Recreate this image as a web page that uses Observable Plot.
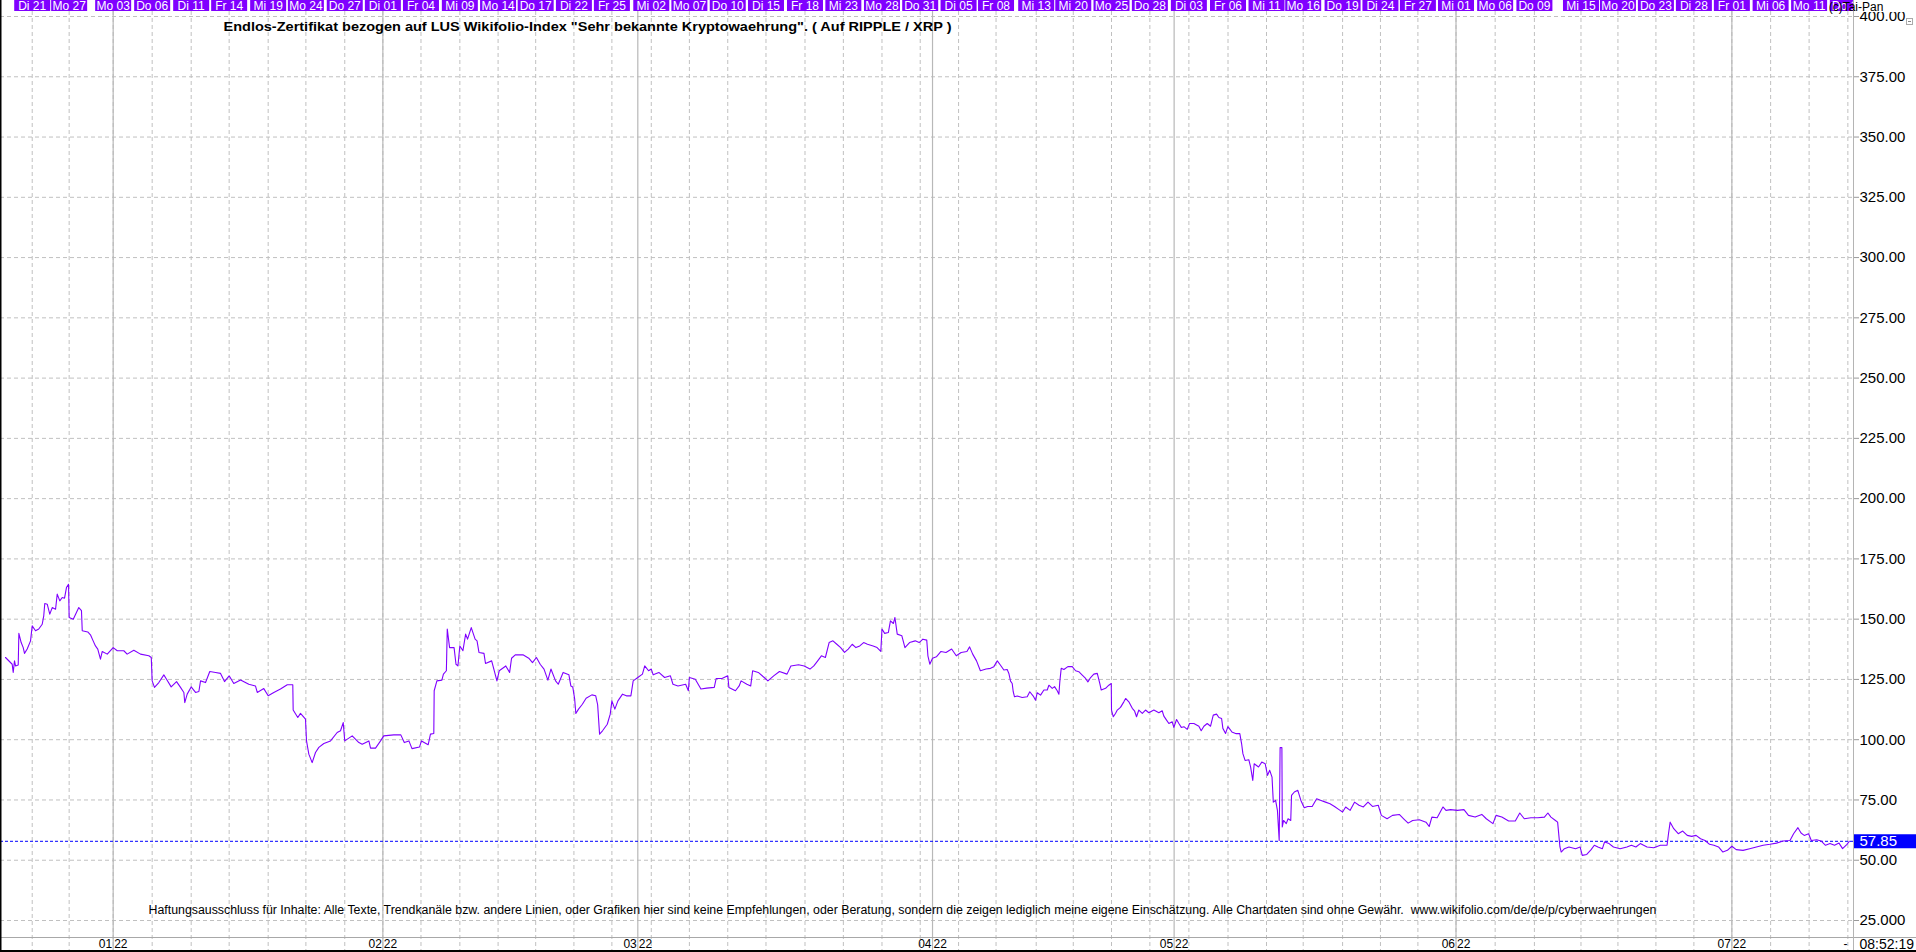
<!DOCTYPE html>
<html><head><meta charset="utf-8">
<script src="https://cdn.jsdelivr.net/npm/d3@7"></script>
<script src="https://cdn.jsdelivr.net/npm/@observablehq/plot@0.6"></script>
<style>html,body{margin:0;padding:0;background:#fff;overflow:hidden}</style>
</head><body><div id="chart"></div>
<script>
// ---- data (x = trading session index counted from Di 21.12.2021) ----
const dayLabels = [["Di 21",0],["Mo 27",2.88],["Mo 03",6.31],["Do 06",9.35],["Di 11",12.39],["Fr 14",15.35],["Mi 19",18.39],["Mo 24",21.33],["Do 27",24.36],["Di 01",27.33],["Fr 04",30.30],["Mi 09",33.33],["Mo 14",36.31],["Do 17",39.24],["Di 22",42.22],["Fr 25",45.18],["Mi 02",48.25],["Mo 07",51.22],["Do 10",54.21],["Di 15",57.19],["Fr 18",60.23],["Mi 23",63.22],["Mo 28",66.23],["Do 31",69.21],["Di 05",72.20],["Fr 08",75.12],["Mi 13",78.25],["Mi 20",81.14],["Mo 25",84.12],["Do 28",87.11],["Di 03",90.15],["Fr 06",93.20],["Mi 11",96.20],["Mo 16",99.06],["Do 19",102.13],["Di 24",105.08],["Fr 27",108.00],["Mi 01",110.97],["Mo 06",114.02],["Do 09",117.08],["Mi 15",120.71],["Mo 20",123.59],["Do 23",126.55],["Di 28",129.51],["Fr 01",132.47],["Mi 06",135.49],["Mo 11",138.49],["Do 14",141.51]];
const monthMarks = [["01","22",6.31],["02","22",27.33],["03","22",47.2],["04","22",70.17],["05","22",89.0],["06","22",110.97],["07","22",132.47]];
const yTicks = [25,50,75,100,125,150,175,200,225,250,275,300,325,350,375,400];
const lastPrice = 57.85;
const sessionRange = [-2.471, 141.95];
const titleText = 'Endlos-Zertifikat bezogen auf LUS Wikifolio-Index "Sehr bekannte Kryptowaehrung". ( Auf RIPPLE / XRP )';
const disclaimerText = 'Haftungsausschluss für Inhalte: Alle Texte, Trendkanäle bzw. andere Linien, oder Grafiken hier sind keine Empfehlungen, oder Beratung, sondern die zeigen lediglich meine eigene Einschätzung. Alle Chartdaten sind ohne Gewähr.  www.wikifolio.com/de/de/p/cyberwaehrungen';
const copyrightText = "(c)Tai-Pan";
const clockText = "08:52:19";
const xrpCloses = [[-2.08,134.1],[-1.56,131.3],[-1.48,127.9],[-1.38,132.7],[-1.30,130.6],[-1.09,131],[-1.04,144.1],[-0.86,140.3],[-0.70,138.2],[-0.60,135.8],[-0.39,137.6],[-0.13,141],[0,147.2],[0.26,145.2],[0.51,145.9],[0.78,147.9],[0.90,151.4],[0.98,156.5],[1.17,156.2],[1.37,152.1],[1.56,154.8],[1.82,154.1],[1.95,160.4],[2.15,157.6],[2.34,159],[2.52,158.7],[2.67,163.1],[2.83,164.5],[2.88,150.7],[3.20,150],[3.63,154.8],[3.84,153.5],[3.90,145.2],[4.33,144.7],[4.54,143.5],[4.75,141],[4.93,138.9],[5.11,137.6],[5.32,133.4],[5.46,136.6],[5.85,135.5],[6.31,138.2],[6.63,136.9],[7.14,136.9],[7.40,135.5],[7.92,137.1],[8.44,135.5],[9.09,134.8],[9.28,134.1],[9.35,124.4],[9.53,121.7],[9.87,123.7],[10.26,126.9],[10.47,125.1],[10.83,121.9],[11.25,124.1],[11.56,121.7],[11.82,119.6],[11.89,115.4],[12.08,118.9],[12.39,121.9],[12.73,119.6],[12.99,120],[13.12,124.4],[13.51,123.7],[13.84,128.3],[14.29,127.9],[14.68,127.5],[14.99,124.1],[15.35,126.5],[15.71,123.3],[16.24,124.8],[16.88,123],[17.40,122.3],[17.54,119.6],[18.05,121.2],[18.39,118.2],[18.83,119.6],[19.35,121],[19.88,122.8],[20.31,122.8],[20.34,112.3],[20.70,109.2],[20.91,110.9],[21.30,108.5],[21.38,99.5],[21.56,94],[21.82,90.5],[22.08,94.7],[22.34,96.8],[22.73,98.4],[23.25,99.5],[23.77,103],[24.03,103.7],[24.24,107.1],[24.36,99.5],[24.94,101.6],[25.46,98.8],[25.72,98.1],[26.24,99.5],[26.37,96.5],[26.76,96.5],[27.15,99.5],[27.40,101.6],[28.18,102],[28.73,102],[29.00,98.8],[29.36,99.5],[29.60,96.3],[30.19,97],[30.34,99.5],[30.86,97.9],[31.04,102.3],[31.30,102.6],[31.33,120.3],[31.54,124.4],[31.93,124.7],[32.05,127.2],[32.28,128.6],[32.35,145.9],[32.53,138.2],[32.88,138.2],[33.03,131.3],[33.18,130.6],[33.33,138.9],[33.57,136.9],[33.78,143.8],[33.93,141.7],[34.22,146.5],[34.52,141.7],[34.67,141],[34.82,136.2],[35.21,135.8],[35.33,131.6],[35.81,132.7],[36.22,124.4],[36.40,128.6],[36.91,130.6],[37.21,127.9],[37.36,133.8],[37.65,135.2],[38.25,135.2],[38.70,133.8],[38.99,132],[39.30,134.1],[39.59,131.3],[39.89,129.3],[40.19,124.7],[40.43,129.3],[40.79,124.4],[41.00,123],[41.38,127.9],[41.83,126.9],[41.98,122.3],[42.13,121.9],[42.28,116.8],[42.37,110.9],[42.58,112.7],[42.88,114.7],[43.17,117.2],[43.62,118.6],[43.92,118.2],[44.07,114.5],[44.22,102.3],[44.45,103.7],[44.82,106.4],[45.05,110.6],[45.18,116.1],[45.41,112.7],[45.65,116.1],[46.01,118.9],[46.31,118.2],[46.66,118.2],[46.84,124.4],[47.20,125.8],[47.56,127.2],[47.74,130.6],[48.04,128.6],[48.25,129.3],[48.40,126.9],[48.84,127.9],[49.29,125.8],[49.74,126.5],[49.94,123],[50.33,122.3],[50.93,123],[51.14,120.3],[51.22,125.8],[51.68,125.1],[52.12,121],[52.57,121.4],[53.16,121.7],[53.31,125.4],[53.76,125.4],[54.21,126.5],[54.30,121.7],[54.81,120.3],[55.10,122.3],[55.25,124.4],[55.70,123],[56.00,122.3],[56.15,128.6],[56.59,127.9],[57.05,125.8],[57.34,124.4],[57.79,126.5],[58.24,128.3],[58.83,127.2],[59.13,130.6],[59.73,131.1],[60.17,130.6],[60.62,129.3],[60.92,130.6],[61.22,132.7],[61.51,134.8],[61.82,134.1],[62.11,140.3],[62.41,141],[62.71,139.6],[63.01,138.2],[63.31,136.2],[63.60,137.6],[63.91,139.6],[64.20,138.2],[64.50,138.9],[64.80,140.3],[65.10,139.6],[65.54,138.9],[65.85,138.2],[66.14,136.6],[66.23,145.9],[66.44,144.1],[66.73,144.5],[66.89,149.3],[67.12,148.2],[67.24,150.7],[67.42,143.8],[67.78,143.1],[68.02,138.2],[68.38,140.3],[68.82,141],[69.13,140.3],[69.42,141.7],[69.72,141.3],[69.81,134.8],[69.96,131.3],[70.17,133.8],[70.47,134.4],[70.83,136.6],[71.22,136.2],[71.66,137.6],[72.02,134.8],[72.40,136.2],[72.85,136.6],[73.06,138.5],[73.30,135.5],[73.60,132.7],[73.90,128.6],[74.34,129.3],[74.69,129.6],[74.95,130.3],[75.22,132.7],[75.47,130.9],[75.73,128.9],[75.99,129.1],[76.12,127.5],[76.25,124.3],[76.38,123.3],[76.46,119.9],[76.56,117.8],[76.77,118.1],[77.16,117.5],[77.55,117.8],[77.75,119.9],[78.02,118.1],[78.20,116.4],[78.33,119.5],[78.59,118.5],[78.85,120.6],[79.11,120.6],[79.24,122.6],[79.50,121.3],[79.68,122],[79.89,120.3],[80.02,118.9],[80.09,124],[80.20,129.6],[80.41,129.1],[80.72,130.3],[81.06,130.3],[81.32,128.6],[81.57,128.2],[81.84,126.8],[82.10,125.4],[82.28,124],[82.49,125.8],[82.74,127.2],[83.01,127.5],[83.21,123.3],[83.32,120.6],[83.66,121.3],[83.91,122.6],[84.10,123.3],[84.12,112.3],[84.26,109.5],[84.43,110.9],[84.57,112.3],[84.82,113.4],[85.08,115.7],[85.22,117.1],[85.47,115.7],[85.74,113],[85.91,112],[86.07,109.5],[86.25,112.3],[86.52,110.9],[86.77,112.3],[87.03,111.2],[87.42,112.3],[87.81,111.2],[88.07,112],[88.20,109.8],[88.41,108.1],[88.59,106.7],[88.85,107.4],[88.98,105.1],[89.19,108.4],[89.37,106.7],[89.56,105.1],[89.76,105.4],[90.02,104.3],[90.20,106.7],[90.54,106.7],[90.93,105.6],[91.11,103.7],[91.32,105.6],[91.58,106.7],[91.84,105.6],[92.05,110.2],[92.31,110.6],[92.49,109.2],[92.70,108.8],[92.80,104.7],[93.01,102.6],[93.19,105.4],[93.40,104],[93.50,103.2],[93.84,102.5],[94.12,102.5],[94.26,98.3],[94.36,94.2],[94.53,91.4],[94.82,91.7],[94.96,88.7],[95.13,83.1],[95.24,90],[95.58,88.7],[95.83,90.7],[96.10,90],[96.28,85.2],[96.45,87.3],[96.63,84.5],[96.73,74.1],[96.91,74.8],[97.05,70.7],[97.19,58.2],[97.26,96.7],[97.40,96.7],[97.43,63.8],[97.53,66.5],[97.74,65.2],[97.88,67.2],[98.09,66.5],[98.15,76.9],[98.37,78.3],[98.64,79],[98.88,74.8],[99.14,71.8],[99.41,72.3],[99.76,72.3],[100.11,75.5],[100.45,74.8],[100.80,74.1],[101.15,73.4],[101.50,72.3],[101.85,71],[102.13,70],[102.37,72.1],[102.72,70.7],[103.06,74.1],[103.41,72.8],[103.75,72.1],[104.11,74.1],[104.46,72.3],[104.91,72.8],[105.15,68.6],[105.60,67.2],[106.02,68.6],[106.55,69],[106.89,67.2],[107.24,65.4],[107.59,66.5],[108.11,66.8],[108.63,65.8],[108.88,64],[109.09,67.9],[109.50,67.6],[109.95,72.1],[110.19,70.7],[110.55,71],[111.07,70.7],[111.59,71],[111.94,68.6],[112.46,67.9],[112.98,69],[113.33,67.2],[113.85,65.2],[114.09,68.6],[114.54,67.9],[115.07,66.3],[115.59,66.3],[115.94,69.6],[116.29,67.2],[116.81,67.6],[117.34,67.6],[117.86,67.9],[118.13,69.6],[118.37,67.9],[118.72,66.5],[118.89,65.8],[119.07,55.5],[119.17,53.4],[119.42,54.8],[119.77,55.5],[120.29,54.8],[120.64,55.5],[120.81,52],[121.16,52.4],[121.50,54.4],[121.75,56.2],[122.03,55.5],[122.38,54.8],[122.55,57.6],[122.90,56.9],[123.24,55.5],[123.76,54.8],[124.29,55.5],[124.64,56.2],[124.99,55.5],[125.33,56.9],[125.86,55.5],[126.38,55.2],[126.90,56.2],[127.42,56.2],[127.53,61],[127.66,65.8],[127.94,63.1],[128.29,61],[128.64,62.1],[128.99,60.3],[129.34,59.9],[129.68,60.3],[130.03,58.9],[130.38,58.2],[130.73,56.6],[131.07,56.2],[131.43,55.5],[131.77,53.4],[132.12,54.1],[132.47,55.8],[132.81,54.4],[133.34,54.1],[133.86,54.8],[134.38,55.5],[134.91,56.2],[135.43,56.6],[135.95,57.1],[136.47,58],[137.00,58.2],[137.28,61],[137.62,63.5],[137.86,61.3],[138.11,60.3],[138.45,61],[138.66,58.2],[139.08,58.5],[139.42,58],[139.77,56.2],[140.12,56.9],[140.47,56.2],[140.82,57.1],[141.10,54.8],[141.44,56.6],[141.62,57.85]];

// ---- styles ----
const PURPLE = "#8000ff", GRID = "#c0c0c0", FONT = "'Liberation Sans', Arial, sans-serif";
const AXIS_FS = 15;

const chart = Plot.plot({
  width: 1916, height: 952,
  marginLeft: 0, marginRight: 63, marginTop: 11, marginBottom: 15,
  style: {background: "#fff", fontFamily: FONT, color: "#000", overflow: "visible"},
  x: {domain: sessionRange, axis: null},
  y: {domain: [25, 400], range: [920, 16]},
  marks: [
    // horizontal dashed grid
    Plot.ruleY(yTicks, {stroke: GRID, strokeDasharray: "4,3"}),
    // vertical dashed grid at day labels
    Plot.ruleX(dayLabels, {x: d => d[1], stroke: GRID, strokeDasharray: "4,3", insetBottom: -13}),
    // solid month lines
    Plot.ruleX(monthMarks, {x: d => d[2], stroke: "#b8b8b8", strokeWidth: 1.2, insetBottom: -13}),
    // last price line
    Plot.ruleY([lastPrice], {stroke: "#0000ff", strokeDasharray: "3,2"}),
    // price series
    Plot.line(xrpCloses, {x: d => d[0], y: d => d[1], stroke: PURPLE, strokeWidth: 1.1}),
    // right axis
    Plot.axisY(yTicks, {anchor: "right", label: null, tickSize: 5, tickPadding: 1, stroke: "#999",
      tickFormat: d => d === 25 ? "25.000" : d.toFixed(2), fontSize: AXIS_FS, fill: "#000"}),
    // last price label box
    Plot.ruleY([lastPrice], {stroke: "#0000ff", strokeWidth: 14, insetLeft: 1854, insetRight: -63}),
    Plot.text([lastPrice], {y: d => d, text: d => d.toFixed(2), frameAnchor: "right", lineAnchor: "middle", dx: 6, textAnchor: "start", fill: "#fff", fontSize: AXIS_FS}),
    // header date boxes and labels
    Plot.ruleX(dayLabels, {x: d => d[1], stroke: PURPLE, strokeWidth: 36, insetTop: -11, insetBottom: 926}),
    Plot.text(dayLabels, {x: d => d[1], text: d => d[0], frameAnchor: "top", lineAnchor: "middle", dy: -5.5, fill: "#fff", fontSize: 12, className: "hdr"}),
    // month labels at bottom
    Plot.text(monthMarks, {x: d => d[2], text: d => d[0], frameAnchor: "bottom", lineAnchor: "middle", dy: 7, dx: -1, textAnchor: "end", fontSize: 12}),
    Plot.text(monthMarks, {x: d => d[2], text: d => d[1], frameAnchor: "bottom", lineAnchor: "middle", dy: 7, dx: 1, textAnchor: "start", fontSize: 12}),
    Plot.text([clockText], {frameAnchor: "bottom-right", lineAnchor: "middle", dx: 6, dy: 7, textAnchor: "start", fontSize: 14}),
    Plot.text(["-"], {frameAnchor: "bottom-right", lineAnchor: "middle", dx: -8, dy: 7, textAnchor: "middle", fontSize: 12}),
    // title and disclaimer
    Plot.text([titleText], {frameAnchor: "top-left", lineAnchor: "middle", dx: 223, dy: 15, textAnchor: "start", fontSize: 12.5, fontWeight: "bold"}),
    Plot.text([disclaimerText], {frameAnchor: "bottom-left", lineAnchor: "middle", dx: 148, dy: -27, textAnchor: "start", fontSize: 12})
  ]
});
document.getElementById("chart").appendChild(chart);

// ---- frame decorations ----
const svg = d3.select(chart);
svg.selectAll("text").filter(function(){ return this.textContent === titleText; })
  .attr("textLength", 728).attr("lengthAdjust", "spacingAndGlyphs");
svg.selectAll("text").filter(function(){ return this.textContent === disclaimerText; })
  .attr("textLength", 1508).attr("lengthAdjust", "spacingAndGlyphs");
// header labels are cut off at the price-axis edge, as in the reference
svg.append("defs").append("clipPath").attr("id", "hdrclip")
  .append("rect").attr("x", 0).attr("y", 0).attr("width", 1853).attr("height", 20);
svg.selectAll("g.hdr").attr("clip-path", "url(#hdrclip)");
const deco = svg.append("g");
deco.append("line").attr("x1", 0).attr("x2", 1916).attr("y1", 937.5).attr("y2", 937.5).attr("stroke", "#a8a8a8");
deco.append("line").attr("x1", 1853.5).attr("x2", 1853.5).attr("y1", 0).attr("y2", 950).attr("stroke", "#b4b4b4");
deco.append("rect").attr("x", 0).attr("y", 950).attr("width", 1916).attr("height", 2).attr("fill", "#000");
deco.append("rect").attr("x", 0).attr("y", 0).attr("width", 1.5).attr("height", 952).attr("fill", "#000");
deco.append("rect").attr("x", 1854).attr("y", 0).attr("width", 62).attr("height", 12).attr("fill", "#fff");
deco.append("text").attr("x", 1856).attr("y", 11).attr("font-size", 12).attr("font-family", FONT).text(copyrightText);
deco.append("rect").attr("x", 1906.5).attr("y", 18.5).attr("width", 6).attr("height", 6).attr("fill", "none").attr("stroke", "#aaa");
deco.append("line").attr("x1", 1908).attr("x2", 1911).attr("y1", 21.5).attr("y2", 21.5).attr("stroke", "#888");
</script>
</body></html>
